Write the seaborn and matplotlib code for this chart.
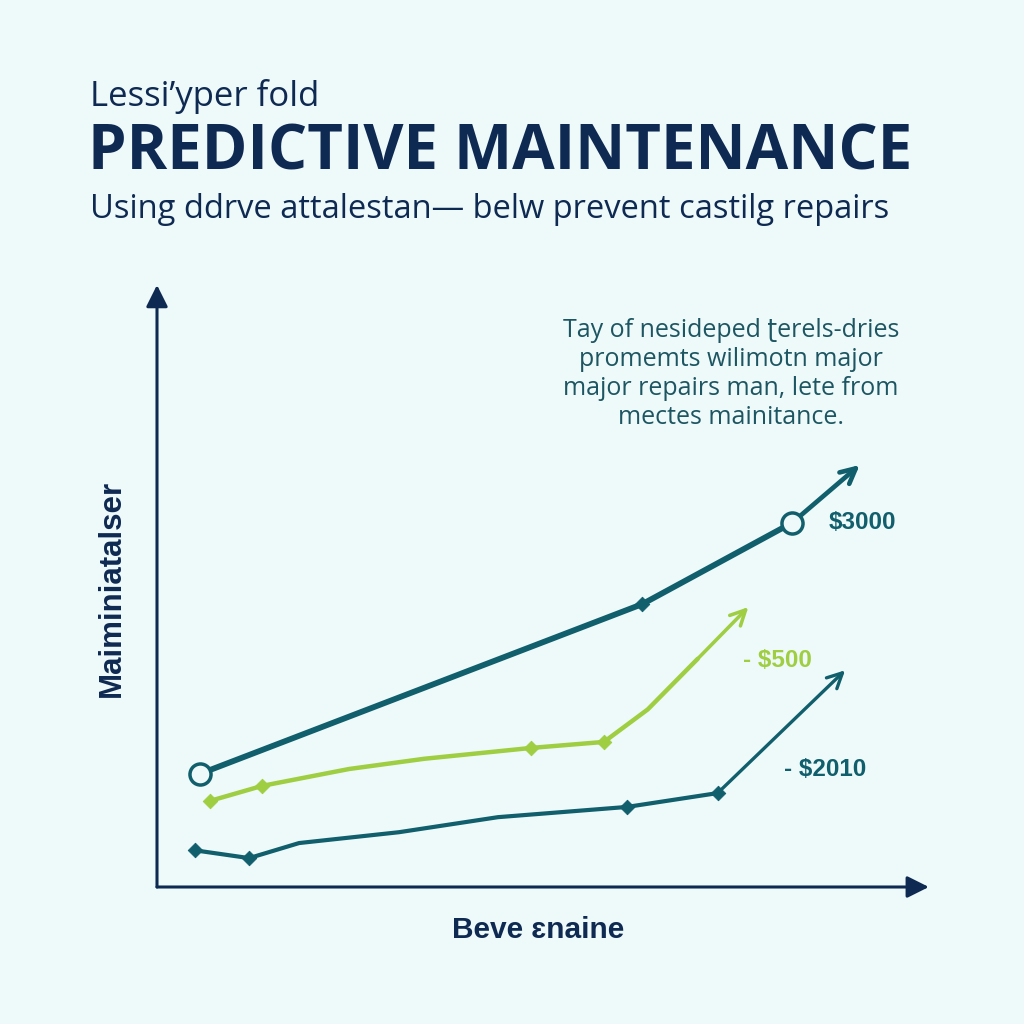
import numpy as np
import pandas as pd
import matplotlib
matplotlib.use("Agg")
import matplotlib.pyplot as plt
import seaborn as sns

# Data (x: 0-100 along the axis, y: 0-100 up the axis)
top_x = [5.6, 63.2, 82.7, 91.5]
top_y = [18.8, 47.0, 60.5, 70.1]
top_markers = [0, 1, 2]

green_x = [6.9, 13.7, 25.0, 34.8, 48.7, 58.2, 63.9, 70.4, 77.0]
green_y = [14.3, 16.8, 19.6, 21.3, 23.1, 24.1, 29.5, 37.9, 46.5]
green_markers = [0, 1, 4, 5]

low_x = [4.9, 12.0, 18.5, 31.5, 44.4, 61.2, 73.0, 89.6]
low_y = [6.1, 4.8, 7.3, 9.1, 11.6, 13.3, 15.6, 36.0]
low_markers = [0, 1, 5, 6]

value_labels = ["$3000", "- $500", "- $2010"]

BG = "#eefaf9"
NAVY = "#0f2a52"
TEAL = "#115e6c"
GREEN = "#9fce42"

sns.set_theme(style="white")
plt.rcParams["font.family"] = ["Open Sans", "DejaVu Sans"]

fig = plt.figure(figsize=(10.24, 10.24), dpi=100, facecolor=BG)
ax = fig.add_axes([157 / 1024, 137 / 1024, 768 / 1024, 602 / 1024])
ax.set_facecolor(BG)
ax.set_xlim(0, 100)
ax.set_ylim(0, 100)
for s in ax.spines.values():
    s.set_visible(False)
ax.set_xticks([])
ax.set_yticks([])

# axis arrows
ax.annotate("", xy=(0, 1.0), xytext=(0, 0), xycoords="axes fraction",
            arrowprops=dict(arrowstyle="-|>,head_length=1.1,head_width=0.55",
                            color=NAVY, lw=2.2, shrinkA=0, shrinkB=0))
ax.annotate("", xy=(1.005, 0), xytext=(0, 0), xycoords="axes fraction",
            arrowprops=dict(arrowstyle="-|>,head_length=1.1,head_width=0.55",
                            color=NAVY, lw=2.2, shrinkA=0, shrinkB=0))

series = [
    (top_x, top_y, top_markers, TEAL, 4.2),
    (green_x, green_y, green_markers, GREEN, 3.2),
    (low_x, low_y, low_markers, TEAL, 3.0),
]
for xs, ys, mk, col, lw in series:
    df = pd.DataFrame({"x": xs[:-1], "y": ys[:-1]})
    sns.lineplot(data=df, x="x", y="y", sort=False, color=col, lw=lw, ax=ax)
    ax.annotate("", xy=(xs[-1], ys[-1]), xytext=(xs[-2], ys[-2]),
                arrowprops=dict(arrowstyle="->,head_length=0.9,head_width=0.45",
                                color=col, lw=lw * 0.8, shrinkA=0, shrinkB=0))
    pts = pd.DataFrame({"x": [xs[i] for i in mk], "y": [ys[i] for i in mk]})
    sns.scatterplot(data=pts, x="x", y="y", color=col, s=55, marker="D",
                    edgecolor=col, ax=ax, zorder=4)

# open circles on the top line
circ = pd.DataFrame({"x": [top_x[0], top_x[2]], "y": [top_y[0], top_y[2]]})
sns.scatterplot(data=circ, x="x", y="y", s=230, facecolor=BG, edgecolor=TEAL,
                linewidth=2.5, ax=ax, zorder=5)
ax.set_xlabel("")
ax.set_ylabel("")

# value labels
lab_font = ["Liberation Sans", "DejaVu Sans"]
ax.text(87.4, top_y[2], value_labels[0], color=TEAL, fontsize=17.5, fontweight="bold",
        va="center", family=lab_font)
ax.text(76.3, 37.7, value_labels[1], color=GREEN, fontsize=17.5, fontweight="bold",
        va="center", family=lab_font)
ax.text(81.6, 19.6, value_labels[2], color=TEAL, fontsize=17.5, fontweight="bold",
        va="center", family=lab_font)

# header texts
fig.text(90 / 1024, 1 - 97 / 1024, "Lessi\u2019yper fold", color=NAVY, fontsize=25,
         va="center", ha="left")
fig.text(88 / 1024, 1 - 153 / 1024, "PREDICTIVE MAINTENANCE", color=NAVY, fontsize=44.5,
         fontweight="bold", va="center", ha="left")
fig.text(90 / 1024, 1 - 210 / 1024, "Using ddrve attalestan\u2014 belw prevent castilg repairs",
         color=NAVY, fontsize=23.5, va="center", ha="left")

# annotation paragraph
fig.text(731 / 1024, 1 - 374 / 1024,
         "Tay of nesideped \u0288erels-dries\npromemts wilimotn major\n"
         "major repairs man, lete from\nmectes mainitance.",
         color="#1d5662", fontsize=18, ha="center", va="center", linespacing=1.22)

# axis labels
fig.text(112 / 1024, 1 - 588 / 1024, "Maiminiatalser", color=NAVY, fontsize=22.5,
         fontweight="bold", rotation=90, ha="center", va="center", family=lab_font)
fig.text(538 / 1024, 1 - 930 / 1024, "Beve \u025bnaine", color=NAVY, fontsize=21.5,
         fontweight="bold", ha="center", va="center", family=lab_font)

fig.savefig("out.png", dpi=100, facecolor=BG)
